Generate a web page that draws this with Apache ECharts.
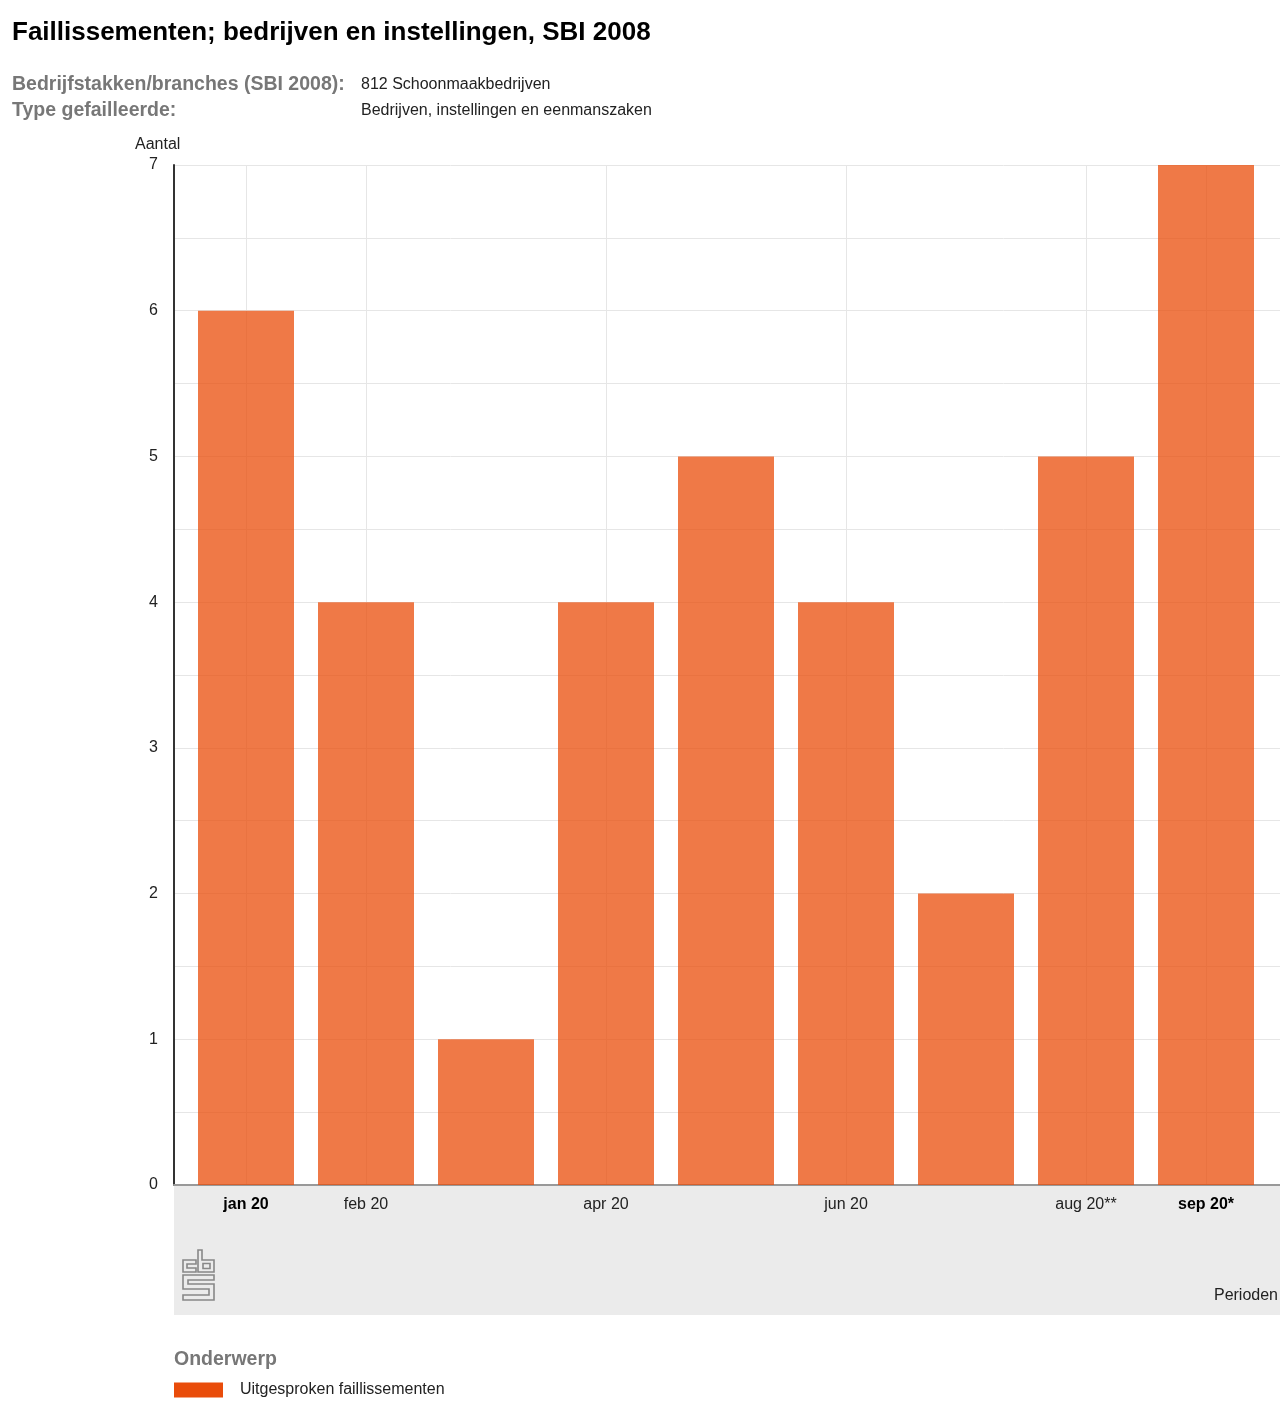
<!DOCTYPE html>
<html>
<head>
<meta charset="utf-8">
<script src="https://cdn.jsdelivr.net/npm/echarts@6/dist/echarts.min.js"></script>
<style>
  html, body { margin: 0; padding: 0; background: #fff; }
  #container { width: 1280px; height: 1402px; }
</style>
</head>
<body>
<div id="container"></div>
<script>
var periods = ['jan 20', 'feb 20', 'mrt 20', 'apr 20', 'mei 20', 'jun 20', 'jul 20', 'aug 20**', 'sep 20*'];
var faillissementen = [6, 4, 1, 4, 5, 4, 2, 5, 7];
var shownLabels = [0, 1, 3, 5, 7, 8];
var boldLabels = [0, 8];
var yTicks = [0, 1, 2, 3, 4, 5, 6, 7];

var font = 'Liberation Sans, Arial, sans-serif';
var dom = document.getElementById('container');
var myChart = echarts.init(dom);

function showIdx(i) {
	return shownLabels.indexOf(i) >= 0;
}

var logoStyle = { fill : 'none', stroke : '#888', lineWidth : 1.6 };

var option = {
	animation : false,
	textStyle : { fontFamily : font },
	title : {
		text : 'Faillissementen; bedrijven en instellingen, SBI 2008',
		left : 12,
		top : 20,
		padding : 0,
		textStyle : { fontFamily : font, fontSize : 26, fontWeight : 'bold', color : '#000' }
	},
	legend : {
		data : [ 'Uitgesproken faillissementen' ],
		left : 174,
		top : 1382,
		padding : 0,
		icon : 'rect',
		itemWidth : 49,
		itemHeight : 15,
		itemStyle : { color : '#e94c0a', opacity : 1 },
		textStyle : { fontFamily : font, fontSize : 16, color : '#222', padding : [ 3, 0, 0, 12 ] }
	},
	grid : [
		{ left : 174, right : 0, top : 165, height : 1020 },
		{ left : 186, width : 1080, top : 165, height : 1020 }
	],
	xAxis : [
		{
			gridIndex : 0,
			type : 'value',
			min : 0,
			max : 1,
			axisLine : { show : true, lineStyle : { color : '#999', width : 2 } },
			axisTick : { show : false },
			axisLabel : { show : false },
			splitLine : { show : false }
		},
		{
			gridIndex : 1,
			type : 'category',
			data : periods,
			axisLine : { show : false },
			axisTick : { show : false },
			axisLabel : {
				interval : function(i) { return showIdx(i); },
				margin : 12,
				fontSize : 16,
				color : '#222',
				formatter : function(v, i) {
					return boldLabels.indexOf(i) >= 0 ? '{b|' + v + '}' : v;
				},
				rich : { b : { fontFamily : font, fontSize : 16, fontWeight : 'bold', color : '#000' } }
			},
			splitLine : {
				show : true,
				alignWithLabel : true,
				interval : function(i) { return showIdx(i); },
				lineStyle : { color : '#e6e6e6', width : 1 }
			}
		}
	],
	yAxis : [
		{
			gridIndex : 0,
			type : 'value',
			min : 0,
			max : 7,
			interval : 0.5,
			axisLine : { show : true, lineStyle : { color : '#333', width : 2 } },
			axisTick : { show : false },
			axisLabel : {
				margin : 16,
				fontSize : 16,
				color : '#222',
				padding : [ 4, 0, 0, 0 ],
				formatter : function(v) { return yTicks.indexOf(v) >= 0 ? String(v) : ''; }
			},
			splitLine : { show : true, lineStyle : { color : '#e6e6e6', width : 1 } }
		},
		{
			gridIndex : 1,
			type : 'value',
			min : 0,
			max : 7,
			show : false
		}
	],
	graphic : [
		{
			type : 'rect',
			z : -10,
			shape : { x : 174, y : 1186, width : 1106, height : 129 },
			style : { fill : '#ebebeb' }
		},
		{
			type : 'text', left : 12, top : 75,
			style : { text : 'Bedrijfstakken/branches (SBI 2008):', font : 'bold 19.5px ' + font, fill : '#777' }
		},
		{
			type : 'text', left : 12, top : 101,
			style : { text : 'Type gefailleerde:', font : 'bold 19.5px ' + font, fill : '#777' }
		},
		{
			type : 'text', left : 361, top : 77,
			style : { text : '812 Schoonmaakbedrijven', font : '16px ' + font, fill : '#222' }
		},
		{
			type : 'text', left : 361, top : 103,
			style : { text : 'Bedrijven, instellingen en eenmanszaken', font : '16px ' + font, fill : '#222' }
		},
		{
			type : 'text', left : 135, top : 137,
			style : { text : 'Aantal', font : '16px ' + font, fill : '#222' }
		},
		{
			type : 'text', right : 2, top : 1288,
			style : { text : 'Perioden', font : '16px ' + font, fill : '#222' }
		},
		{
			type : 'text', left : 174, top : 1350,
			style : { text : 'Onderwerp', font : 'bold 19.5px ' + font, fill : '#777' }
		},
		// cbs logo
		{
			type : 'polygon', z : 10,
			shape : { points : [ [196, 1260], [183, 1260], [183, 1272], [196, 1272], [196, 1268], [187, 1268], [187, 1264], [196, 1264] ] },
			style : logoStyle
		},
		{
			type : 'polygon', z : 10,
			shape : { points : [ [198, 1250], [198, 1272], [214, 1272], [214, 1260], [202, 1260], [202, 1250] ] },
			style : logoStyle
		},
		{
			type : 'polygon', z : 10,
			shape : { points : [ [203, 1263.5], [210, 1263.5], [210, 1268.5], [203, 1268.5] ] },
			style : logoStyle
		},
		{
			type : 'polygon', z : 10,
			shape : { points : [ [214, 1275], [183, 1275], [183, 1289], [209, 1289], [209, 1295], [183, 1295],
				[183, 1300], [214, 1300], [214, 1284], [188, 1284], [188, 1280], [214, 1280] ] },
			style : logoStyle
		}
	],
	series : [ {
		name : 'Uitgesproken faillissementen',
		type : 'bar',
		xAxisIndex : 1,
		yAxisIndex : 1,
		data : faillissementen,
		barWidth : 96,
		itemStyle : { color : '#e94c0a', opacity : 0.75 }
	} ]
};

myChart.setOption(option, true);
</script>
</body>
</html>
